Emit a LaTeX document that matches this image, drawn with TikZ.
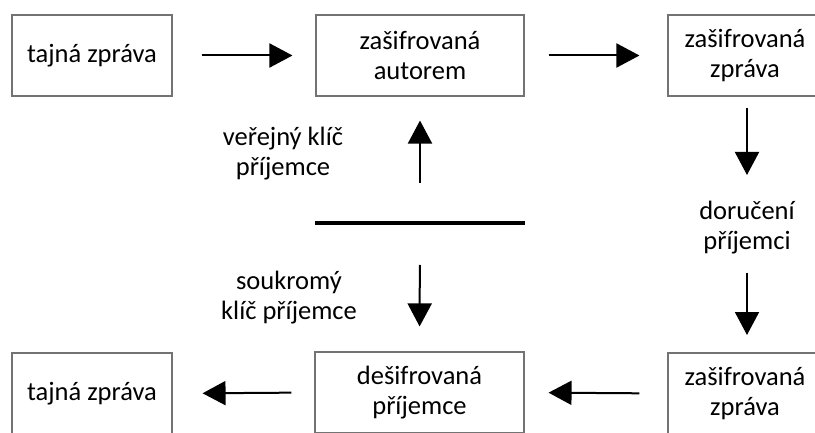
\documentclass[tikz,border=0pt]{standalone}
\usepackage{fontspec}
\setmainfont{Carlito}
\usetikzlibrary{arrows.meta}
\begin{document}
\begin{tikzpicture}[x=1pt,y=-1pt,
  box/.style={draw=black!55,line width=1.1pt,rectangle,inner sep=0pt,
    align=center,font=\fontsize{26.5}{30}\selectfont},
  lbl/.style={align=center,font=\fontsize{26.5}{30}\selectfont},
  flow/.style={line width=2pt,-{Triangle[length=23pt,width=24pt]}}]
\useasboundingbox (0,0) rectangle (815,433);
\clip (0,0) rectangle (815,433);
% top row
\node[box,minimum width=160pt,minimum height=81pt] (src) at (92,55.5) {tajná zpráva};
\node[box,minimum width=208pt,minimum height=81pt] (enc) at (420,55.5) {zašifrovaná\\autorem};
\node[box,minimum width=154pt,minimum height=81pt] (sent) at (745,55.5) {zašifrovaná\\zpráva};
% bottom row
\node[box,minimum width=160pt,minimum height=81pt] (dst) at (92,393.5) {tajná zpráva};
\node[box,minimum width=209pt,minimum height=81pt] (dec) at (419.5,392.5) {dešifrovaná\\příjemce};
\node[box,minimum width=154pt,minimum height=81pt] (recv) at (745,393.5) {zašifrovaná\\zpráva};
% key pair bar
\coordinate (barL) at (315,223);
\coordinate (barR) at (525,223);
\coordinate (barM) at (420,223);
\draw[line width=3.5pt] (barL) -- (barR);
% labels
\node[lbl] (pub) at (283,154) {veřejný klíč\\příjemce};
\node[lbl] (priv) at (289,298) {soukromý\\klíč příjemce};
\node[lbl] (deliv) at (747,228) {doručení\\příjemci};
% connectors
\draw[flow,shorten <=29pt,shorten >=23pt] (src.east) -- (enc.west);
\draw[flow,shorten <=24pt,shorten >=28pt] (enc.east) -- (sent.west);
\draw[flow,shorten <=40pt,shorten >=24pt] (barM) -- (enc.south);
\draw[flow,shorten <=42pt,shorten >=25pt] (barM) -- (dec.north);
\coordinate (dtop) at (747,96);
\coordinate (dmid) at (747,224);
\coordinate (dbot) at (747,353);
\draw[flow,shorten <=12pt,shorten >=49pt] (dtop) -- (dmid);
\draw[flow,shorten <=49pt,shorten >=18pt] (dmid) -- (dbot);
\draw[flow,shorten <=28pt,shorten >=24pt] (recv.west) -- (dec.east);
\draw[flow,shorten <=23pt,shorten >=30pt] (dec.west) -- (dst.east);
\end{tikzpicture}
\end{document}
